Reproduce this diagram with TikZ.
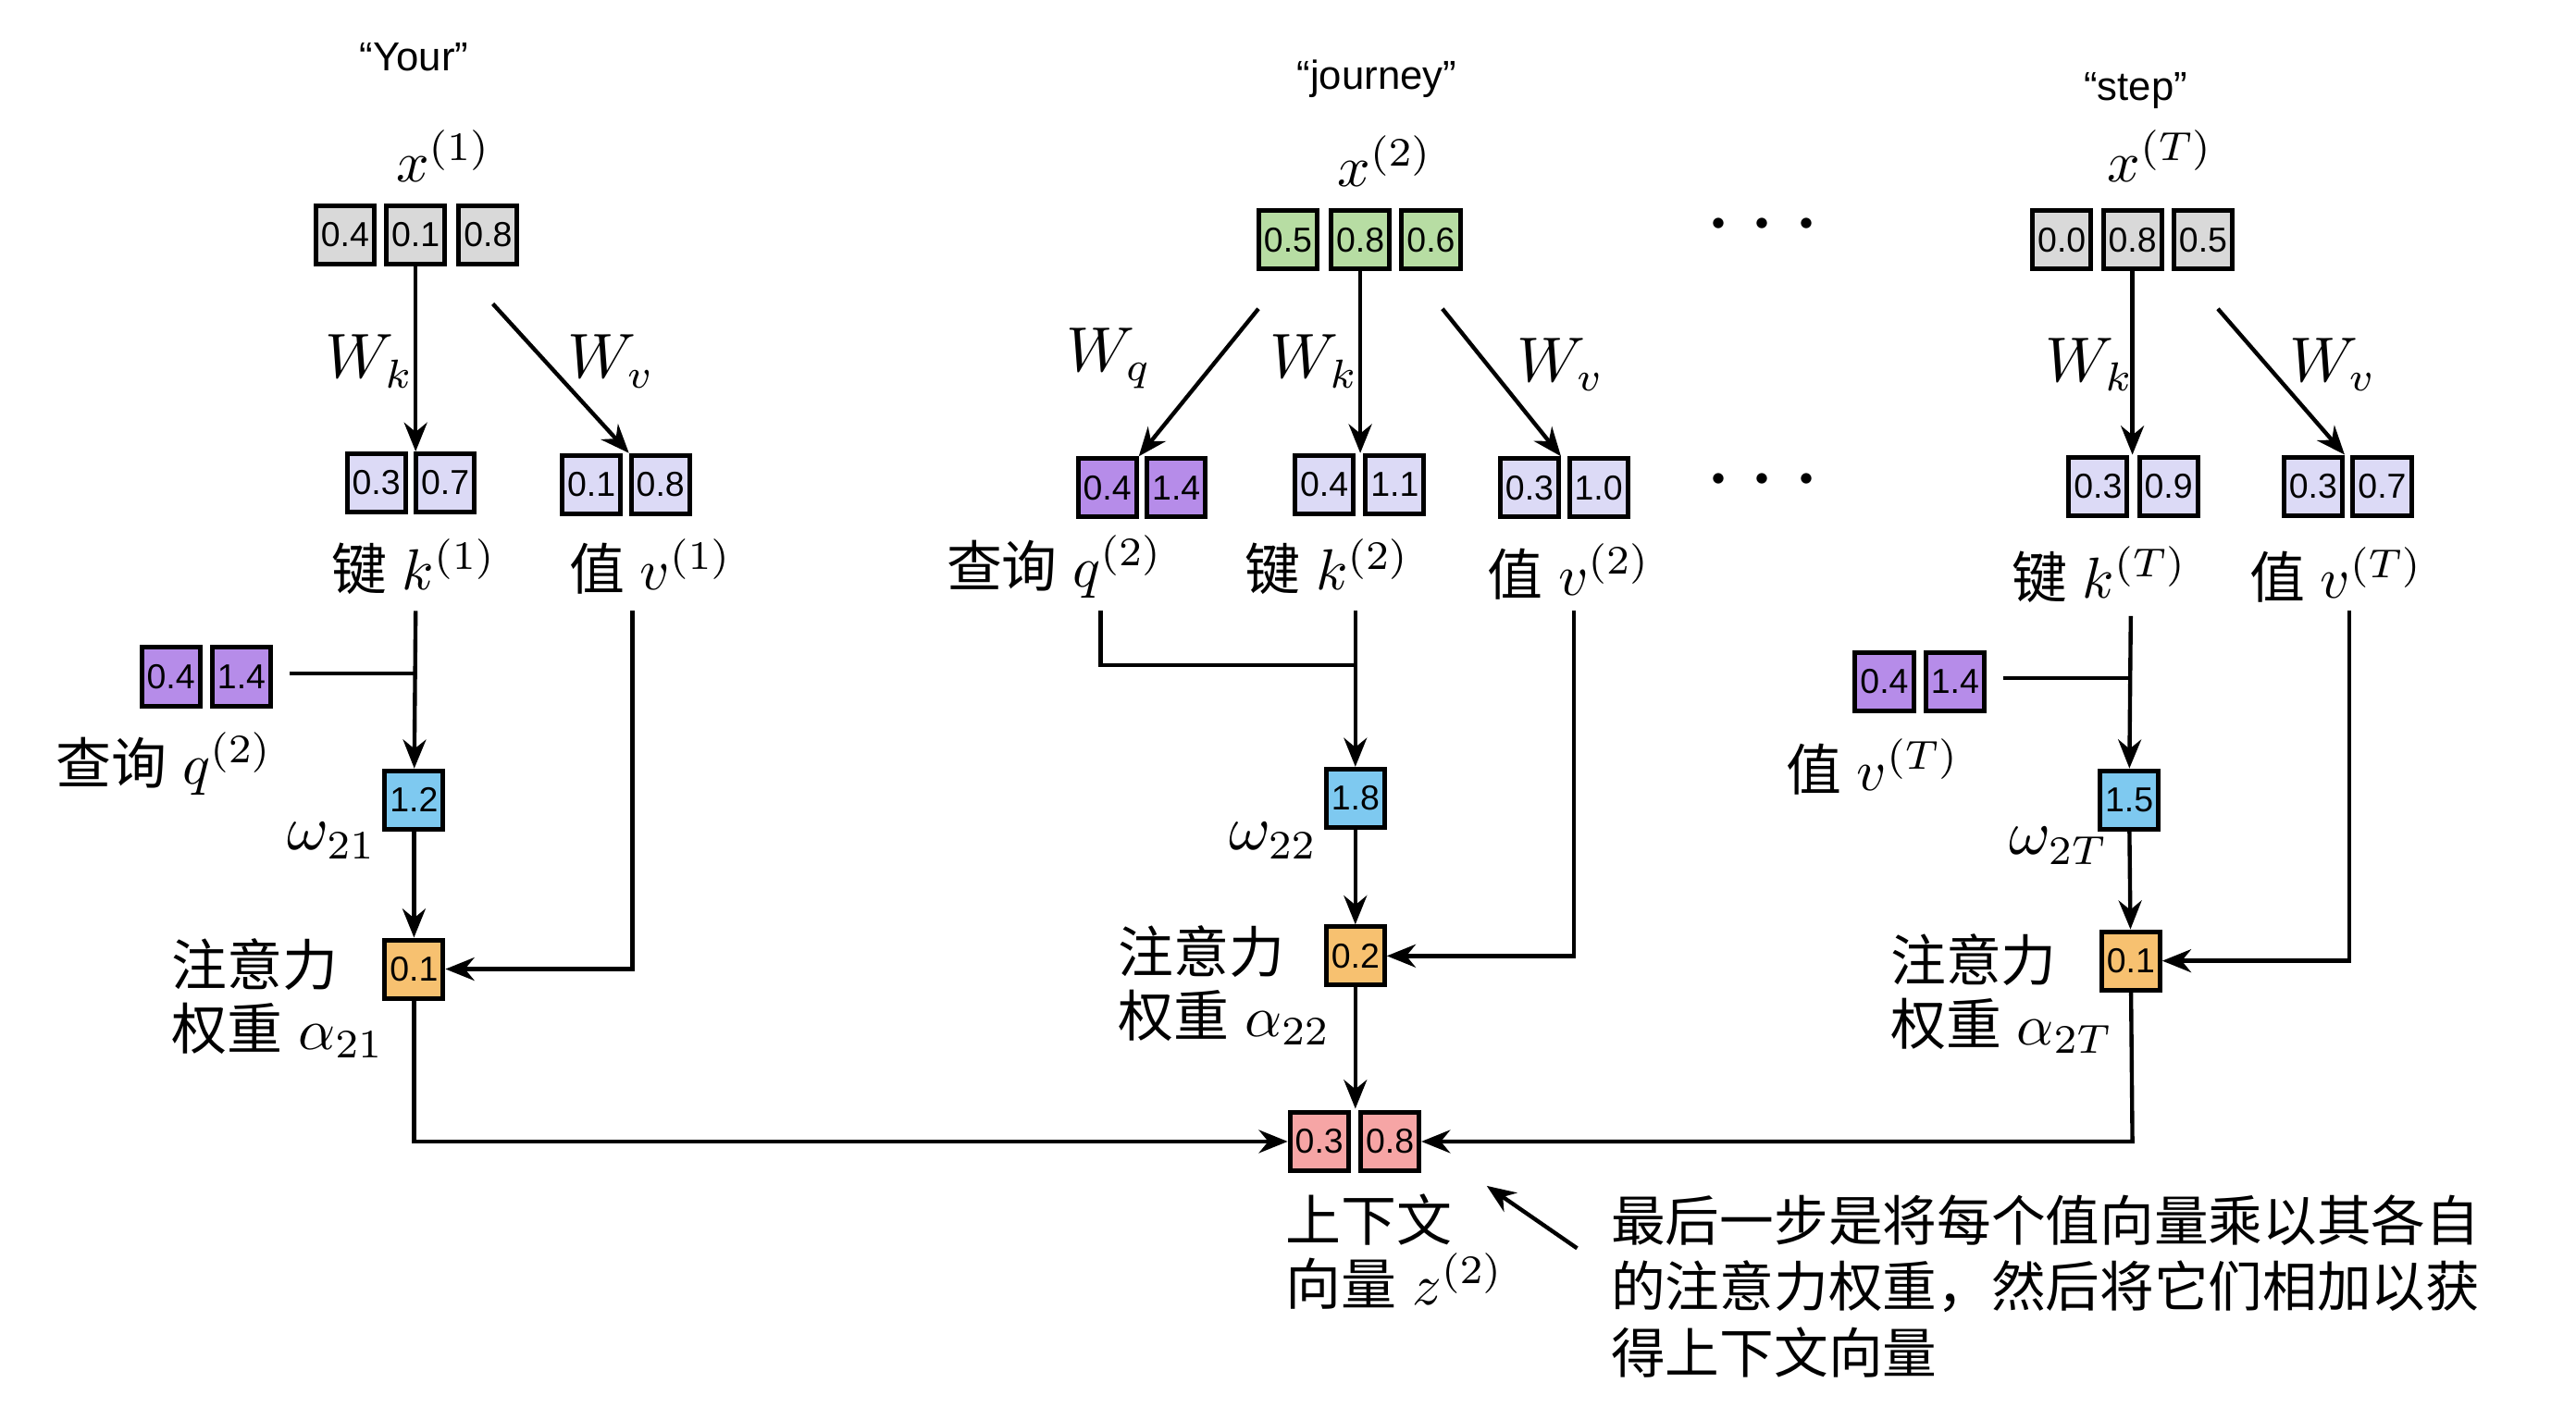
\documentclass[tikz,border=0pt]{standalone}
\usepackage{fontspec}
\setmainfont{Liberation Sans}
\newfontfamily\cjk{Noto Sans CJK SC}
\usetikzlibrary{arrows.meta}
\definecolor{cgray}{HTML}{D9D9D9}
\definecolor{cgreen}{HTML}{B7DDA3}
\definecolor{clkey}{HTML}{DCDAF6}
\definecolor{cquery}{HTML}{B68CE9}
\definecolor{comega}{HTML}{7EC9F0}
\definecolor{catt}{HTML}{F7C170}
\definecolor{cctx}{HTML}{F6A5A5}
\tikzset{
  cell/.style={draw, line width=0.8pt, minimum size=0.355cm, inner sep=0pt, font=\fontsize{6}{7}\selectfont},
  lab/.style={font=\fontsize{9.6}{11}\selectfont, inner sep=0pt},
  word/.style={font=\fontsize{7}{8}\selectfont, inner sep=0pt},
  wt/.style={font=\fontsize{10.5}{11}\selectfont, inner sep=0pt},
  flow/.style={-{Stealth[length=5pt,width=4pt]}, line width=0.7pt},
  line/.style={line width=0.7pt}
}
\begin{document}
\begin{tikzpicture}[x=0.01cm, y=-0.01cm]
\useasboundingbox (0,0) rectangle (1568,864);
% "Your"
\node[word] (w1) at (252,35) {“Your”};
\node[lab] (x1) at (270,95) {$x^{(1)}$};
\node[cell, fill=cgray] (x1a) at (210,143) {0.4};
\node[cell, fill=cgray] (x1b) at (253,143) {0.1};
\node[cell, fill=cgray] (x1c) at (297,143) {0.8};
\node[cell, fill=clkey] (k1a) at (229,294) {0.3};
\node[cell, fill=clkey] (k1b) at (271,294) {0.7};
\node[cell, fill=clkey] (v1a) at (360,295) {0.1};
\node[cell, fill=clkey] (v1b) at (402,295) {0.8};
\node[lab] (k1) at (252,345) {{\cjk 键} $k^{(1)}$};
\node[lab] (v1) at (396,345) {{\cjk 值} $v^{(1)}$};
\node[cell, fill=cquery] (q1a) at (104,412) {0.4};
\node[cell, fill=cquery] (q1b) at (147,412) {1.4};
\node[lab] (q1) at (100,465) {{\cjk 查询} $q^{(2)}$};
\node[cell, fill=comega] (o1) at (252,487) {1.2};
\node[wt] (o1l) at (202,512) {$\omega_{21}$};
\node[cell, fill=catt] (a1) at (252,590) {0.1};
\node[lab, align=left, anchor=west] (a1l) at (104,608) {{\cjk 注意力}\\{\cjk 权重} $\alpha_{21}$};
\node[wt] (wk1) at (225,220) {$W_k$};
\node[wt] (wv1) at (372,220) {$W_v$};
\coordinate (j1) at (253,410);
\coordinate (c1) at (385,590);
\coordinate (d1) at (252,695);
\draw[flow] (x1b) -- (k1b.north -| x1b);
\draw[flow] (300,185) -- (v1b.north west);
\draw[line] (q1b.east) ++(10,-2) -- (j1);
\draw[flow] (253,372) -- (o1);
\draw[flow] (o1) -- (a1);
\draw[flow] (385,372) -- (c1) -- (a1);
% "journey"
\node[word] (w2) at (838,48) {“journey”};
\node[lab] (x2) at (843,98) {$x^{(2)}$};
\node[cell, fill=cgreen] (x2a) at (784,146) {0.5};
\node[cell, fill=cgreen] (x2b) at (828,146) {0.8};
\node[cell, fill=cgreen] (x2c) at (871,146) {0.6};
\node[cell, fill=cquery] (q2a) at (674,297) {0.4};
\node[cell, fill=cquery] (q2b) at (716,297) {1.4};
\node[cell, fill=clkey] (k2a) at (806,295) {0.4};
\node[cell, fill=clkey] (k2b) at (849,295) {1.1};
\node[cell, fill=clkey] (v2a) at (931,297) {0.3};
\node[cell, fill=clkey] (v2b) at (973,297) {1.0};
\node[lab] (q2) at (642,345) {{\cjk 查询} $q^{(2)}$};
\node[lab] (k2) at (808,345) {{\cjk 键} $k^{(2)}$};
\node[lab] (v2) at (955,348) {{\cjk 值} $v^{(2)}$};
\node[cell, fill=comega] (o2) at (825,486) {1.8};
\node[wt] (o2l) at (775,512) {$\omega_{22}$};
\node[cell, fill=catt] (a2) at (825,582) {0.2};
\node[lab, align=left, anchor=west] (a2l) at (680,600) {{\cjk 注意力}\\{\cjk 权重} $\alpha_{22}$};
\node[cell, fill=cctx] (z2a) at (803,695) {0.3};
\node[cell, fill=cctx] (z2b) at (846,695) {0.8};
\node[lab, align=left, anchor=west] (z2l) at (782,762) {{\cjk 上下文}\\{\cjk 向量} $z^{(2)}$};
\node[wt] (wq2) at (675,218) {$W_q$};
\node[wt] (wk2) at (800,220) {$W_k$};
\node[wt] (wv2) at (950,222) {$W_v$};
\draw[flow] (766,188) -- (q2a.north east);
\draw[flow] (x2b) -- (k2a.north -| x2b);
\draw[flow] (878,188) -- (v2a.north east);
\draw[line] (670,372) -- (670,405) -- (825,405);
\draw[flow] (825,372) -- (o2);
\draw[flow] (o2) -- (a2);
\draw[flow] (958,372) -- (958,582) -- (a2);
\draw[flow] (a2) -- (825,675);
% dots
\node[font=\fontsize{16}{16}\selectfont] (dt1) at (1073,138) {\textbf{$\cdots$}};
\node[font=\fontsize{16}{16}\selectfont] (dt2) at (1073,293) {\textbf{$\cdots$}};
% "step"
\node[word] (w3) at (1300,55) {“step”};
\node[lab] (x3) at (1315,95) {$x^{(T)}$};
\node[cell, fill=cgray] (x3a) at (1255,146) {0.0};
\node[cell, fill=cgray] (x3b) at (1298,146) {0.8};
\node[cell, fill=cgray] (x3c) at (1341,146) {0.5};
\node[cell, fill=clkey] (k3a) at (1277,296) {0.3};
\node[cell, fill=clkey] (k3b) at (1320,296) {0.9};
\node[cell, fill=clkey] (v3a) at (1408,296) {0.3};
\node[cell, fill=clkey] (v3b) at (1450,296) {0.7};
\node[lab] (k3) at (1278,350) {{\cjk 键} $k^{(T)}$};
\node[lab] (v3) at (1422,350) {{\cjk 值} $v^{(T)}$};
\node[cell, fill=cquery] (q3a) at (1147,415) {0.4};
\node[cell, fill=cquery] (q3b) at (1190,415) {1.4};
\node[lab] (q3) at (1140,467) {{\cjk 值} $v^{(T)}$};
\node[cell, fill=comega] (o3) at (1296,487) {1.5};
\node[wt] (o3l) at (1253,515) {$\omega_{2T}$};
\node[cell, fill=catt] (a3) at (1297,585) {0.1};
\node[lab, align=left, anchor=west] (a3l) at (1150,605) {{\cjk 注意力}\\{\cjk 权重} $\alpha_{2T}$};
\node[wt] (wk3) at (1272,222) {$W_k$};
\node[wt] (wv3) at (1420,222) {$W_v$};
\coordinate (j3) at (1297,413);
\coordinate (c3) at (1430,585);
\coordinate (d3) at (1298,695);
\draw[flow] (x3b) -- (k3a.north -| x3b);
\draw[flow] (1350,188) -- (v3a.north east);
\draw[line] (q3b.east) ++(10,-2) -- (j3);
\draw[flow] (1297,375) -- (o3);
\draw[flow] (o3) -- (a3);
\draw[flow] (1430,372) -- (c3) -- (a3);
% sums
\draw[flow] (a1) -- (d1) -- (z2a);
\draw[flow] (a3) -- (d3) -- (z2b);
\coordinate (n1) at (960,760);
\draw[flow] (n1) -- (905,722);
\node[lab, align=left, anchor=north west, font=\cjk\fontsize{9.4}{11.4}\selectfont] (note) at (980,727) {最后一步是将每个值向量乘以其各自\\的注意力权重，然后将它们相加以获\\得上下文向量};
\end{tikzpicture}
\end{document}
